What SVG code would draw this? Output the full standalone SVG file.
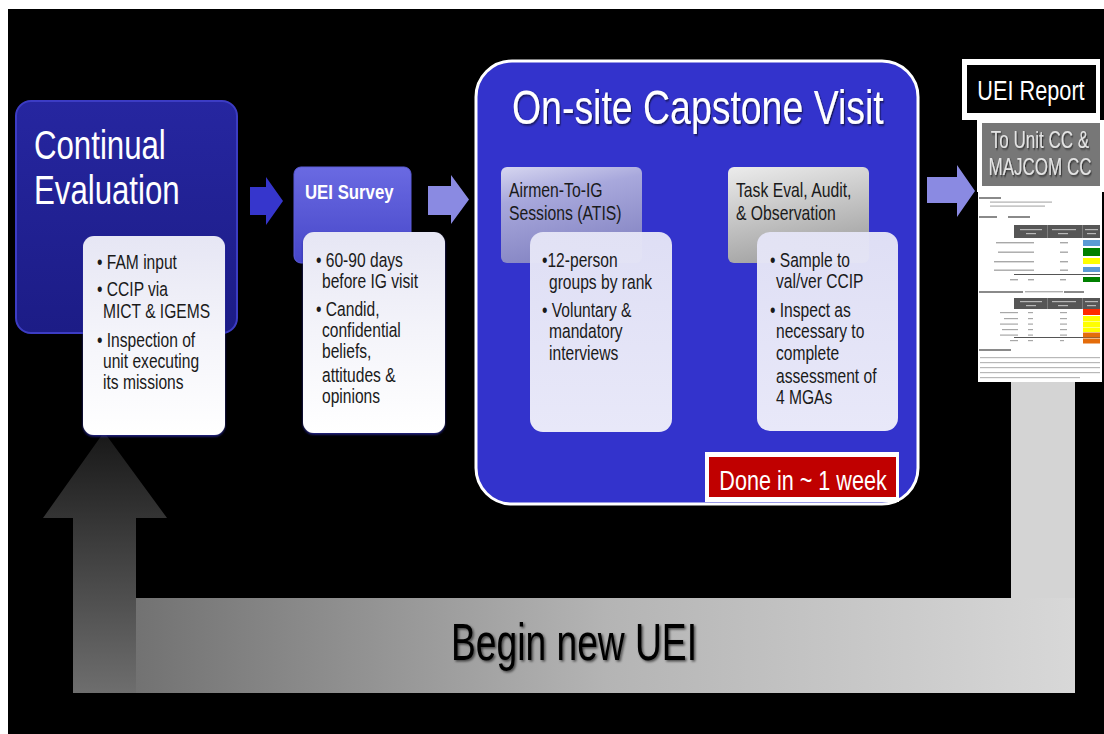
<svg xmlns="http://www.w3.org/2000/svg" width="1104" height="734" viewBox="0 0 1104 734">
<style>
.t{font-family:"Liberation Sans",Arial,sans-serif;}
.body{font-size:19.5px;fill:#1a1a1a;}
.hdr{font-size:21px;fill:#1a1a1a;}
.wbox{stroke:none;}
</style>
<defs>
<linearGradient id="gCE" x1="0" y1="0" x2="0" y2="1"><stop offset="0" stop-color="#2626a0"/><stop offset="1" stop-color="#1c1c86"/></linearGradient>
<linearGradient id="gSurvey" x1="0" y1="0" x2="0" y2="1"><stop offset="0" stop-color="#6a6ae2"/><stop offset="1" stop-color="#4646c8"/></linearGradient>
<linearGradient id="gATIS" x1="0" y1="0" x2="0.3" y2="1"><stop offset="0" stop-color="#d6d6f0"/><stop offset="0.35" stop-color="#a8a8dc"/><stop offset="1" stop-color="#8686c4"/></linearGradient>
<linearGradient id="gTask" x1="0" y1="0" x2="0.3" y2="1"><stop offset="0" stop-color="#ececec"/><stop offset="0.4" stop-color="#cfcfcf"/><stop offset="1" stop-color="#a4a4a4"/></linearGradient>
<linearGradient id="gW1" x1="0" y1="0" x2="0" y2="1"><stop offset="0" stop-color="#e6e6f4"/><stop offset="0.5" stop-color="#f4f4fa"/><stop offset="1" stop-color="#ffffff"/></linearGradient>
<linearGradient id="gW2" x1="0" y1="0" x2="0" y2="1"><stop offset="0" stop-color="#e4e4f6"/><stop offset="1" stop-color="#eeeefa"/></linearGradient>
<linearGradient id="gUp" x1="0" y1="432" x2="0" y2="693" gradientUnits="userSpaceOnUse"><stop offset="0" stop-color="#181818"/><stop offset="1" stop-color="#6e6e6e"/></linearGradient>
<linearGradient id="gBand" x1="136" y1="0" x2="1075" y2="0" gradientUnits="userSpaceOnUse"><stop offset="0" stop-color="#727272"/><stop offset="0.5" stop-color="#b4b4b4"/><stop offset="1" stop-color="#d8d8d8"/></linearGradient>
<filter id="tsh" x="-10%" y="-20%" width="120%" height="150%"><feDropShadow dx="1.5" dy="1.5" stdDeviation="1" flood-color="#000" flood-opacity="0.6"/></filter>
<filter id="bsh" x="-10%" y="-10%" width="120%" height="120%"><feDropShadow dx="0" dy="1.5" stdDeviation="0.8" flood-color="#2a2aa0" flood-opacity="0.9"/></filter>
</defs>

<rect x="0" y="0" width="1104" height="734" fill="#ffffff"/>
<rect x="8" y="9" width="1096" height="725" fill="#000000"/>

<g id="connectors">
  <!-- loop back arrow -->
  <rect x="1011" y="380" width="64" height="220" fill="#d4d4d4"/>
  <rect x="134" y="598" width="941" height="95" fill="url(#gBand)"/>
  <polygon points="73,693 73,518 43,518 104,432 167,518 136,518 136,693" fill="url(#gUp)"/>
  <text class="t" x="574" y="660" font-size="52" text-anchor="middle" textLength="246" lengthAdjust="spacingAndGlyphs" fill="#000" filter="url(#tsh)">Begin new UEI</text>
  <!-- flow arrows -->
  <polygon points="250,187 266,187 266,177 283,201 266,225 266,215 250,215" fill="#3636cc"/>
  <polygon points="428,186 451,186 451,175 469,199.5 451,224 451,215 428,215" fill="#8a8ae2"/>
  <polygon points="663,186 692,186 692,178 708,200.5 692,223 692,215 663,215" fill="#8a8ae2"/>
  <polygon points="927,177 957,177 957,165 975,191 957,217 957,203 927,203" fill="#8a8ae2"/>
</g>

<g id="continual-evaluation">
  <rect x="16" y="101" width="221" height="232" rx="15" fill="url(#gCE)" stroke="#3c3cc4" stroke-width="2"/>
  <text class="t" transform="translate(34,0) scale(0.78,1)" font-size="40" fill="#ffffff"><tspan x="0" y="159">Continual</tspan><tspan x="0" y="204">Evaluation</tspan></text>
  <rect x="83" y="236" width="142" height="199" rx="11" fill="url(#gW1)" filter="url(#bsh)"/>
  <text class="t body" transform="translate(97,0) scale(0.8,1)"><tspan x="0" y="269">• FAM input</tspan><tspan x="0" y="296">• CCIP via</tspan><tspan x="7.5" y="318">MICT &amp; IGEMS</tspan><tspan x="0" y="347">• Inspection of</tspan><tspan x="7.5" y="368">unit executing</tspan><tspan x="7.5" y="389">its missions</tspan></text>
</g>

<g id="uei-survey">
  <rect x="294" y="167" width="117" height="96" rx="7" fill="url(#gSurvey)" stroke="#5c5cd8" stroke-width="1"/>
  <text class="t" transform="translate(305,0) scale(0.84,1)" font-size="20" font-weight="bold" fill="#ffffff"><tspan x="0" y="199">UEI Survey</tspan></text>
  <rect x="303" y="232" width="142" height="201" rx="11" fill="url(#gW1)" filter="url(#bsh)"/>
  <text class="t body" transform="translate(316,0) scale(0.8,1)"><tspan x="0" y="267">• 60-90 days</tspan><tspan x="7.5" y="288">before IG visit</tspan><tspan x="0" y="316">• Candid,</tspan><tspan x="7.5" y="337">confidential</tspan><tspan x="7.5" y="358">beliefs,</tspan><tspan x="7.5" y="382">attitudes &amp;</tspan><tspan x="7.5" y="403">opinions</tspan></text>
</g>

<g id="capstone-visit">
  <rect x="476" y="61" width="442" height="443" rx="36" fill="#3333cc" stroke="#ffffff" stroke-width="3"/>
  <text class="t" transform="translate(512,0) scale(0.78,1)" font-size="48" fill="#ffffff" filter="url(#tsh)"><tspan x="0" y="124">On-site Capstone Visit</tspan></text>
</g>

<g id="atis">
  <rect x="501" y="167" width="141" height="96" rx="6" fill="url(#gATIS)"/>
  <text class="t hdr" transform="translate(509,0) scale(0.75,1)"><tspan x="0" y="197">Airmen-To-IG</tspan><tspan x="0" y="220">Sessions (ATIS)</tspan></text>
  <rect x="530" y="232" width="142" height="200" rx="13" fill="url(#gW2)" fill-opacity="0.97"/>
  <text class="t body" transform="translate(542,0) scale(0.8,1)"><tspan x="0" y="267">•12-person</tspan><tspan x="8.75" y="289">groups by rank</tspan><tspan x="0" y="317">• Voluntary &amp;</tspan><tspan x="8.75" y="338">mandatory</tspan><tspan x="8.75" y="360">interviews</tspan></text>
</g>

<g id="task-eval">
  <rect x="728" y="167" width="141" height="96" rx="6" fill="url(#gTask)"/>
  <text class="t hdr" transform="translate(736,0) scale(0.75,1)"><tspan x="0" y="197">Task Eval, Audit,</tspan><tspan x="0" y="220">&amp; Observation</tspan></text>
  <rect x="757" y="232" width="141" height="199" rx="13" fill="url(#gW2)" fill-opacity="0.97"/>
  <text class="t body" transform="translate(770,0) scale(0.8,1)"><tspan x="0" y="267">• Sample to</tspan><tspan x="7.5" y="288">val/ver CCIP</tspan><tspan x="0" y="317">• Inspect as</tspan><tspan x="7.5" y="338">necessary to</tspan><tspan x="7.5" y="360">complete</tspan><tspan x="7.5" y="383">assessment of</tspan><tspan x="7.5" y="404">4 MGAs</tspan></text>
</g>

<g id="done-week">
  <rect x="705" y="452" width="194" height="50" fill="#ffffff"/>
  <rect x="709" y="457" width="187" height="40" fill="#c00000"/>
  <text class="t" transform="translate(803,0) scale(0.8,1)" font-size="27" fill="#ffffff" text-anchor="middle"><tspan x="0" y="490">Done in ~ 1 week</tspan></text>
</g>

<g id="uei-report">
  <rect x="962" y="59" width="138" height="61" fill="#ffffff"/>
  <rect x="967" y="65" width="129" height="48" fill="#000000"/>
  <text class="t" transform="translate(1031,0) scale(0.775,1)" font-size="28" fill="#ffffff" text-anchor="middle"><tspan x="0" y="100">UEI Report</tspan></text>
</g>

<g id="to-unit-cc">
  <rect x="977" y="120" width="127" height="72" fill="#ffffff"/>
  <rect x="982" y="123" width="118" height="63" fill="#777777"/>
  <text class="t" transform="translate(1040,0) scale(0.74,1)" font-size="23" fill="#e4e4e4" text-anchor="middle" filter="url(#tsh)"><tspan x="0" y="148">To Unit CC &amp;</tspan><tspan x="0" y="175">MAJCOM CC</tspan></text>
</g>

<g id="report-document">
  <rect x="978" y="192" width="124" height="190" fill="#ffffff"/>
  <rect x="979" y="197" width="22" height="2" fill="#8a8a8a"/>
  <rect x="990" y="201.5" width="62" height="1.2" fill="#b0b0b0"/>
  <rect x="990" y="205.5" width="55" height="1.2" fill="#b0b0b0"/>
  <rect x="979" y="216" width="18" height="2" fill="#8a8a8a"/>
  <rect x="1008" y="216" width="22" height="2" fill="#8a8a8a"/>
  <rect x="1014" y="225" width="86" height="13" fill="#565656"/>
  <rect x="1047" y="225" width="0.8" height="13" fill="#888"/>
  <rect x="1082" y="225" width="0.8" height="13" fill="#888"/>
  <g fill="#b8b8b8">
    <rect x="1020" y="229" width="22" height="1.2"/><rect x="1052" y="229" width="24" height="1.2"/><rect x="1085" y="229" width="13" height="1.2"/>
    <rect x="1026" y="233" width="10" height="1.2"/><rect x="1058" y="233" width="10" height="1.2"/><rect x="1087" y="233" width="9" height="1.2"/>
  </g>
  <g fill="#a8a8a8">
    <rect x="996" y="242" width="32" height="1.4"/><rect x="1028" y="242" width="6" height="1.4"/><rect x="1060" y="242" width="8" height="1.4"/>
    <rect x="998" y="251.5" width="30" height="1.4"/><rect x="1028" y="251.5" width="6" height="1.4"/><rect x="1060" y="251.5" width="8" height="1.4"/>
    <rect x="994" y="261" width="34" height="1.4"/><rect x="1028" y="261" width="6" height="1.4"/><rect x="1060" y="261" width="8" height="1.4"/>
    <rect x="994" y="269.5" width="34" height="1.4"/><rect x="1028" y="269.5" width="6" height="1.4"/><rect x="1060" y="269.5" width="8" height="1.4"/>
    <rect x="1010" y="279" width="8" height="1.4"/><rect x="1028" y="279" width="6" height="1.4"/><rect x="1060" y="279" width="6" height="1.4"/>
  </g>
  <rect x="1083" y="240" width="17" height="6" fill="#5b9bd5"/>
  <rect x="1083" y="248" width="17" height="8" fill="#008000"/>
  <rect x="1083" y="258" width="17" height="6" fill="#ffff00"/>
  <rect x="1083" y="267" width="17" height="5" fill="#5b9bd5"/>
  <rect x="1014" y="274" width="86" height="1" fill="#555"/>
  <rect x="1083" y="277" width="17" height="5" fill="#008000"/>
  <rect x="979" y="291" width="44" height="2" fill="#8a8a8a"/>
  <rect x="1025" y="291" width="38" height="1.4" fill="#b0b0b0"/>
  <rect x="1064" y="291" width="20" height="2" fill="#8a8a8a"/>
  <rect x="1014" y="298" width="86" height="11" fill="#565656"/>
  <rect x="1047" y="298" width="0.8" height="11" fill="#888"/>
  <rect x="1082" y="298" width="0.8" height="11" fill="#888"/>
  <g fill="#b8b8b8">
    <rect x="1020" y="301" width="22" height="1.2"/><rect x="1052" y="301" width="24" height="1.2"/><rect x="1085" y="301" width="13" height="1.2"/>
    <rect x="1026" y="305" width="10" height="1.2"/><rect x="1058" y="305" width="10" height="1.2"/><rect x="1087" y="305" width="9" height="1.2"/>
  </g>
  <g fill="#a8a8a8">
    <rect x="1000" y="312" width="18" height="1.2"/><rect x="1028" y="312" width="5" height="1.2"/><rect x="1060" y="312" width="7" height="1.2"/>
    <rect x="1004" y="318" width="14" height="1.2"/><rect x="1028" y="318" width="5" height="1.2"/><rect x="1060" y="318" width="7" height="1.2"/>
    <rect x="1000" y="323.5" width="18" height="1.2"/><rect x="1028" y="323.5" width="5" height="1.2"/><rect x="1060" y="323.5" width="7" height="1.2"/>
    <rect x="1002" y="329" width="16" height="1.2"/><rect x="1028" y="329" width="5" height="1.2"/><rect x="1060" y="329" width="7" height="1.2"/>
    <rect x="1000" y="334.5" width="18" height="1.2"/><rect x="1028" y="334.5" width="5" height="1.2"/><rect x="1060" y="334.5" width="7" height="1.2"/>
    <rect x="1010" y="340" width="8" height="1.2"/><rect x="1028" y="340" width="5" height="1.2"/><rect x="1060" y="340" width="4" height="1.2"/>
  </g>
  <rect x="1083" y="309" width="17" height="6" fill="#ff2a00"/>
  <rect x="1083" y="316" width="17" height="5.5" fill="#ffff00"/>
  <rect x="1083" y="322" width="17" height="5" fill="#ffff00"/>
  <rect x="1083" y="327.5" width="17" height="4.5" fill="#ffff00"/>
  <rect x="1014" y="337" width="86" height="1" fill="#555"/>
  <rect x="1083" y="332.5" width="17" height="5" fill="#e46c0a"/>
  <rect x="1083" y="338.5" width="17" height="5" fill="#e46c0a"/>
  <rect x="979" y="349" width="32" height="2" fill="#8a8a8a"/>
  <g fill="#b8b8b8">
    <rect x="980" y="357" width="120" height="1.2"/>
    <rect x="980" y="362" width="120" height="1.2"/>
    <rect x="980" y="367" width="120" height="1.2"/>
    <rect x="980" y="372" width="120" height="1.2"/>
    <rect x="980" y="377" width="100" height="1.2"/>
  </g>
</g>
</svg>
